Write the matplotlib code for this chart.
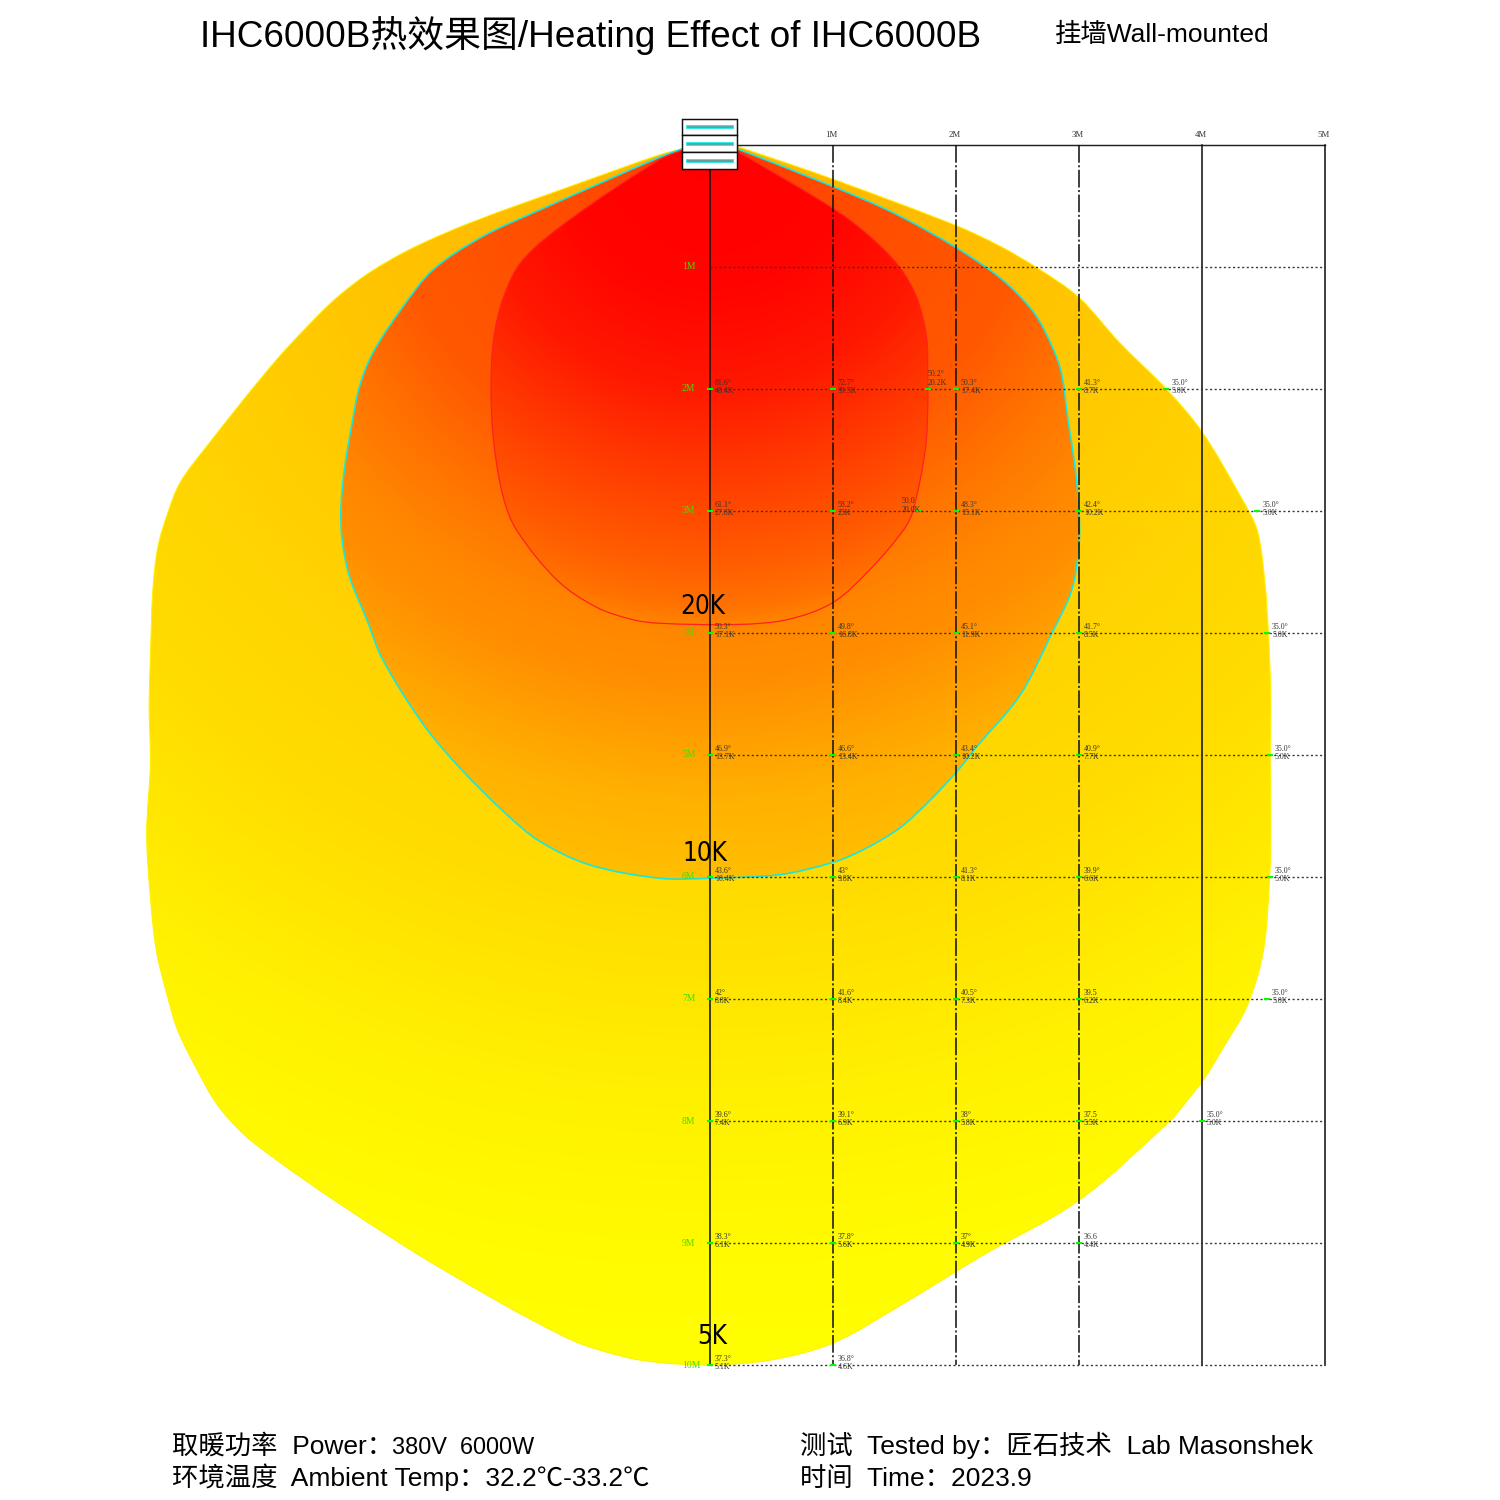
import numpy as np
import matplotlib
matplotlib.use("Agg")
import matplotlib.pyplot as plt
from matplotlib.path import Path
from matplotlib.patches import PathPatch, Rectangle

# -------------------------------------------------------------------- DATA
# contour outlines in metres (x across, y down from the heater)
K5_X = [0.22, 1.00, 2.00, 2.36, 2.68, 3.00, 3.33, 3.71, 4.00, 4.33, 4.45, 4.51, 4.54, 4.56, 4.555, 4.56, 4.55,
        4.50, 4.37, 4.16, 4.02, 3.85, 3.74, 3.00, 2.22, 1.55, 1.00, 0.49, 0.00,
        -0.41, -0.71, -1.16, -2.20, -3.01, -3.55, -3.80, -4.01, -4.17, -4.33, -4.41, -4.50, -4.55, -4.58,
        -4.55, -4.56, -4.55, -4.53, -4.49, -4.41, -4.31, -4.10, -3.55, -3.20, -3.01, -2.76, -2.41,
        -1.93, -1.11, -0.41, -0.22]
K5_Y = [0.01, 0.28, 0.66, 0.83, 1.02, 1.25, 1.62, 2.00, 2.35, 2.91, 3.16, 3.57, 4.00, 4.55, 5.00, 5.61, 6.00,
        6.60, 7.05, 7.42, 7.65, 7.87, 8.00, 8.65, 9.10, 9.51, 9.82, 9.96, 10.00,
        9.98, 9.93, 9.78, 9.20, 8.68, 8.30, 8.10, 7.86, 7.58, 7.25, 6.98, 6.61, 6.16, 5.64,
        5.08, 4.59, 4.22, 3.65, 3.30, 3.02, 2.77, 2.48, 1.79, 1.41, 1.23, 1.04, 0.84,
        0.63, 0.33, 0.08, 0.03]

K10_X = [0.22, 1.00, 1.50, 2.00, 2.36, 2.60, 2.72, 2.85, 2.91, 2.97, 3.00, 3.00, 2.94, 2.78, 2.52, 2.17, 2.02,
         1.79, 1.54, 1.24, 1.00, 0.57, 0.00,
         -0.41, -0.98, -1.38, -1.65, -2.03, -2.33, -2.66, -2.79, -2.93, -2.99, -3.00, -2.97, -2.91, -2.85,
         -2.74, -2.50, -2.25, -1.85, -1.38, -0.41, -0.22]
K10_Y = [0.03, 0.34, 0.56, 0.84, 1.09, 1.33, 1.52, 1.84, 2.25, 2.66, 3.00, 3.28, 3.65, 4.00, 4.51, 4.93, 5.12,
         5.37, 5.60, 5.78, 5.88, 5.98, 6.01,
         6.01, 5.90, 5.71, 5.49, 5.11, 4.75, 4.22, 3.89, 3.54, 3.24, 2.97, 2.64, 2.28, 1.98,
         1.70, 1.33, 1.02, 0.75, 0.53, 0.10, 0.03]

K20_X = [0.22, 1.00, 1.30, 1.54, 1.68, 1.76, 1.77, 1.77, 1.75, 1.65, 1.57, 1.30, 1.00, 0.63, 0.22, -0.41,
         -0.63, -0.92, -1.24, -1.57, -1.68, -1.76, -1.78, -1.76, -1.68, -1.52, -1.11, -0.41, -0.22]
K20_Y = [0.05, 0.52, 0.75, 1.00, 1.25, 1.57, 1.90, 2.17, 2.50, 3.00, 3.16, 3.48, 3.75, 3.89, 3.93, 3.92,
         3.89, 3.79, 3.57, 3.16, 2.89, 2.42, 1.98, 1.60, 1.25, 0.94, 0.59, 0.12, 0.04]

# measured points, one list per distance row
ROW_Y = [2, 3, 4, 5, 6, 7, 8, 9, 10]
ROW_X = [[0, 1, 1.77, 2, 3, 3.71], [0, 1, 1.69, 2, 3, 4.45], [0, 1, 2, 3, 4.53], [0, 1, 2, 3, 4.55],
         [0, 1, 2, 3, 4.55], [0, 1, 2, 3, 4.53], [0, 1, 2, 3, 4.00], [0, 1, 2, 3], [0, 1]]
ROW_TEMP = [["81.6°", "72.7°", "50.2°", "50.3°", "41.3°", "35.0°"],
            ["61.1°", "58.2°", "50.0", "48.3°", "42.4°", "35.0°"],
            ["50.3°", "49.8°", "45.1°", "41.7°", "35.0°"],
            ["46.9°", "46.6°", "43.4°", "40.9°", "35.0°"],
            ["43.6°", "43°", "41.3°", "39.9°", "35.0°"],
            ["42°", "41.6°", "40.5°", "39.5", "35.0°"],
            ["39.6°", "39.1°", "38°", "37.5", "35.0°"],
            ["38.3°", "37.8°", "37°", "36.6"],
            ["37.3°", "36.8°"]]
ROW_RISE = [["48.4K", "39.5K", "20.2K", "17.4K", "8.7K", "5.0K"],
            ["27.8K", "25K", "20.0K", "15.1K", "10.2K", "5.0K"],
            ["17.1K", "16.8K", "11.9K", "8.5K", "5.0K"],
            ["13.7K", "13.4K", "10.2K", "7.7K", "5.0K"],
            ["10.4K", "9.8K", "8.1K", "6.6K", "5.0K"],
            ["8.8K", "8.4K", "7.3K", "6.2K", "5.0K"],
            ["7.4K", "6.9K", "5.8K", "5.5K", "5.0K"],
            ["6.1K", "5.6K", "4.9K", "4.4K"],
            ["5.1K", "4.6K"]]

SIDE_LABELS = ["1M", "2M", "3M", "4M", "5M", "6M", "7M", "8M", "9M", "10M"]
TOP_LABELS = ["1M", "2M", "3M", "4M", "5M"]
ZONE_LABELS = ["20K", "10K", "5K"]
ZONE_Y = [3.79, 5.81, 9.77]
ZONE_X = [-0.06, -0.04, 0.02]

# -------------------------------------------------------------------- SETTING
PX_X = 123.0   # pixels per metre
PX_Y = 122.0
X0 = 710
Y0 = 145

plt.rcParams['font.family'] = ['Liberation Sans', 'Noto Sans CJK SC']
plt.rcParams['lines.scale_dashes'] = False

fig = plt.figure(figsize=(10, 10), dpi=150)
ax = fig.add_axes([0, 0, 1, 1])
ax.axis("off")
xlim = (-X0 / PX_X, (1500 - X0) / PX_X)
ylim = ((1500 - Y0) / PX_Y, -Y0 / PX_Y)


def outline(xs, ys):
    # smooth curve through the read points, closed behind the heater
    p = np.column_stack([xs, ys])
    tang = np.gradient(p, axis=0)
    # chord based direction, so uneven point spacing gives no kinks
    tang[1:-1] = p[2:] - p[:-2]
    tang = tang / np.linalg.norm(tang, axis=1, keepdims=True)
    verts = [tuple(p[0])]
    codes = [Path.MOVETO]
    for i in range(len(p) - 1):
        step = np.linalg.norm(p[i + 1] - p[i]) / 3
        verts += [tuple(p[i] + tang[i] * step), tuple(p[i + 1] - tang[i + 1] * step), tuple(p[i + 1])]
        codes += [Path.CURVE4] * 3
    verts += [(0, 0), tuple(p[0])]
    codes += [Path.LINETO, Path.CLOSEPOLY]
    return Path(verts, codes)


def zone(xs, ys, stops_d, stops_g, edge, lw, z):
    # fill runs red to yellow with distance from the heater
    gx, gy = np.meshgrid(np.linspace(-5, 5, 700), np.linspace(0, 10.2, 700))
    d = np.hypot(gx * PX_X / PX_Y, gy)
    g = np.interp(d, stops_d, stops_g) / 255
    img = np.dstack([np.ones_like(g), g, np.zeros_like(g)])
    im = ax.imshow(img, extent=(-5, 5, 10.2, 0), aspect="auto", zorder=z, interpolation="bilinear")
    patch = PathPatch(outline(xs, ys), fc="none", ec=edge, lw=lw, zorder=z + 0.1)
    ax.add_patch(patch)
    im.set_clip_path(patch)


# green channel stops against distance
zone(K5_X, K5_Y, [0, 1.76, 3, 4, 5, 6.2, 7, 8, 9, 10], [184, 188, 196, 204, 212, 220, 230, 242, 250, 255],
     "#FFF200", 0.5, 1)
zone(K10_X, K10_Y, [0, 0.9, 2.7, 3.55, 4.06, 4.4, 4.9, 5.4, 6], [48, 72, 88, 120, 136, 142, 160, 178, 190],
     "#19E6E0", 0.8, 2)
zone(K20_X, K20_Y, [0, 1.2, 2, 2.2, 2.9, 3.45, 3.78, 3.95], [0, 4, 24, 34, 68, 94, 114, 132], "#FF2020", 0.6, 3)

# grid
ax.plot([0, 5], [0, 0], color="#222222", lw=0.7, zorder=5)
for i in range(6):
    style = (0, (8.5, 1.2, 1, 1.2)) if i in (1, 2, 3) else "-"
    ax.plot([i, i], [0, 10], color="#111111", lw=0.75, ls=style, zorder=5)
for i in range(1, 11):
    ax.plot([0, 5], [i, i], color="#333333", lw=0.65, ls=(0, (1, 1.2)), zorder=5)
for i, s in enumerate(TOP_LABELS):
    ax.text(i + 1 - 0.01, -0.05, s, family="Liberation Serif", fontsize=4.2, color="#333333",
            ha="center", va="bottom", zorder=6)
for i, s in enumerate(SIDE_LABELS):
    ax.text(-0.228, i + 1, s, family="Liberation Serif", fontsize=4.6, color="#44DD00",
            ha="left", va="center", zorder=6)

# measured points
for y, xs, temps, rises in zip(ROW_Y, ROW_X, ROW_TEMP, ROW_RISE):
    for x, t, r in zip(xs, temps, rises):
        dx, dy = 0.04, 0
        if x == 1.69:
            dx, dy = -0.13, -0.03
        if x == 1.77:
            dx, dy = 0.0, -0.07
        ax.plot([x - 0.025, x + 0.025], [y, y], color="#00FF00", lw=1.0, zorder=6, solid_capstyle="butt")
        ax.text(x + dx, y + dy - 0.05, t, family="Liberation Serif", fontsize=3.8, color="#333333",
                ha="left", va="center", zorder=7)
        ax.text(x + dx, y + dy + 0.02, r, family="Liberation Serif", fontsize=3.8, color="#333333",
                ha="left", va="center", zorder=7)

for s, x, y in zip(ZONE_LABELS, ZONE_X, ZONE_Y):
    ax.text(x, y, s, fontsize=12.5, color="black", ha="center", va="center", zorder=8,
            family=["DejaVu Sans"], stretch="condensed")

# heater drawing
for top, core in zip([-0.215, -0.08, 0.06], ["#4FA6A8", "#4FA6A8", "#808A8C"]):
    ax.add_patch(Rectangle((-0.228, top), 0.448, 0.135, fc="white", ec="#111111", lw=0.7, zorder=9))
    ax.plot([-0.175, 0.175], [top + 0.068, top + 0.068], color="#19E6E0", lw=1.8, zorder=10)
    ax.plot([-0.175, 0.175], [top + 0.068, top + 0.068], color=core, lw=0.8, zorder=11)

ax.set_xlim(xlim)
ax.set_ylim(ylim)

# title and notes
fig.text(200 / 1500, 1 - 47 / 1500, "IHC6000B热效果图/Heating Effect of IHC6000B", fontsize=17.7,
         ha="left", va="baseline")
fig.text(1055 / 1500, 1 - 42 / 1500, "挂墙Wall-mounted", fontsize=12.7, ha="left", va="baseline")
fig.text(172 / 1500, 1 - 1454 / 1500, "取暖功率  Power：", fontsize=12.65, ha="left", va="baseline")
fig.text(392 / 1500, 1 - 1454 / 1500, "380V  6000W", fontsize=11.3, ha="left", va="baseline")
fig.text(172 / 1500, 1 - 1486 / 1500, "环境温度  Ambient Temp：32.2℃-33.2℃", fontsize=12.65, ha="left", va="baseline")
fig.text(800 / 1500, 1 - 1454 / 1500, "测试  Tested by：匠石技术  Lab Masonshek", fontsize=12.65, ha="left", va="baseline")
fig.text(800 / 1500, 1 - 1486 / 1500, "时间  Time：2023.9", fontsize=12.65, ha="left", va="baseline")

fig.savefig("out.png", dpi=150)
